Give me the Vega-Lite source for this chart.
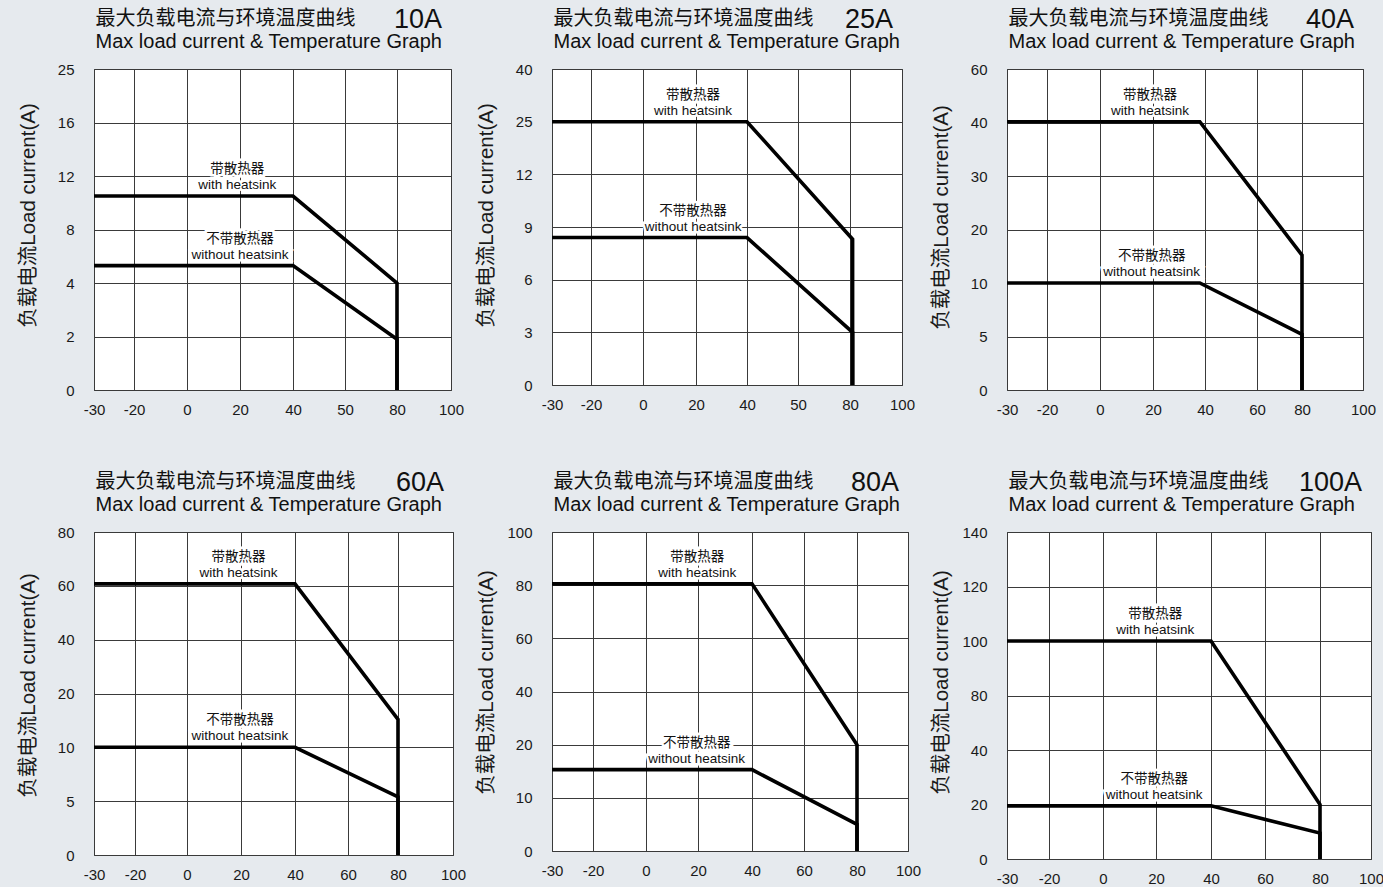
{
"$schema": "https://vega.github.io/schema/vega-lite/v6.json",
"background": "#e6eaee",
"padding": {"left": 17, "top": 5, "right": 0, "bottom": 0},
"bounds": "flush",
"columns": 3,
"spacing": {"row": 142, "column": 99},
"config": {
 "view": {"fill": "white", "stroke": "#333", "strokeWidth": 1},
 "font": "Liberation Sans, Noto Sans CJK SC",
 "axis": {"grid": true, "gridColor": "#3a3a3a", "gridWidth": 1, "gridOpacity": 1, "ticks": false, "tickSize": 0, "domain": false, "labelFont": "Liberation Sans", "labelFontSize": 15, "labelColor": "#1a1a1a", "labelFlush": false, "labelOverlap": false, "labelExpr": "replace(datum.label, '−', '-')", "titleFont": "Liberation Sans, Noto Sans CJK SC", "titleFontWeight": "normal", "titleFontSize": 19, "titleColor": "#1a1a1a"},
 "axisX": {"labelPadding": 12},
 "axisY": {"labelPadding": 20, "titleBaseline": "middle", "titleFontSize": 20.5},
 "title": {"font": "Liberation Sans", "fontWeight": "normal", "fontSize": 27, "color": "#111", "anchor": "end", "frame": "group"},
 "text": {"font": "Liberation Sans, Noto Sans CJK SC", "fontSize": 13.5, "color": "#111"},
 "line": {"color": "#000", "strokeWidth": 3.6, "strokeJoin": "miter", "strokeCap": "butt"}
},
"concat": [
{
 "width": 357, "height": 321,
 "title": {"text": "10A", "offset": -26, "dx": -9},
 "data": {"values": [
  {"s":"with","i":1,"t":-30,"a":10.5},{"s":"with","i":2,"t":40,"a":10.5},{"s":"with","i":3,"t":80,"a":4},{"s":"with","i":4,"t":80,"a":0},
  {"s":"without","i":1,"t":-30,"a":5.3},{"s":"without","i":2,"t":40,"a":5.3},{"s":"without","i":3,"t":80,"a":1.9},{"s":"without","i":4,"t":80,"a":0}
 ]},
 "layer": [
  {"mark": {"type":"line"},
   "encoding": {
    "x": {"field":"t","type":"quantitative","scale":{"domain":[-30,-20,0,20,40,50,80,100],"range":[0,40,93,146,199,251,303,357],"nice":false,"zero":false},"axis":{"values":[-30,-20,0,20,40,50,80,100],"title":null}},
    "y": {"field":"a","type":"quantitative","scale":{"domain":[0,2,4,8,12,16,25],"range":[321,267.5,214,160.5,107,53.5,0],"nice":false,"zero":false},"axis":{"values":[0,2,4,8,12,16,25],"title":"负载电流Load current(A)","titleX":-66,"titleY":146}},
    "detail":{"field":"s"},
    "order":{"field":"i"}
   }},
  {"data": {"values":[{"t":19,"a":10.5,"label":"带散热器\nwith heatsink"},{"t":20,"a":5.3,"label":"不带散热器\nwithout heatsink"}]},
   "mark": {"type":"text","baseline":"bottom","dy":-20,"lineBreak":"\n","lineHeight":16,"stroke":"white","strokeWidth":5,"color":"white"},
   "encoding": {
    "x": {"field":"t","type":"quantitative","scale":{"domain":[-30,-20,0,20,40,50,80,100],"range":[0,40,93,146,199,251,303,357],"nice":false,"zero":false},"axis":null},
    "y": {"field":"a","type":"quantitative","scale":{"domain":[0,2,4,8,12,16,25],"range":[321,267.5,214,160.5,107,53.5,0],"nice":false,"zero":false},"axis":{"values":[0,2,4,8,12,16,25],"title":"负载电流Load current(A)","titleX":-66,"titleY":146}},
    "text":{"field":"label"}
   }},
  {"data": {"values":[{"t":19,"a":10.5,"label":"带散热器\nwith heatsink"},{"t":20,"a":5.3,"label":"不带散热器\nwithout heatsink"}]},
   "mark": {"type":"text","baseline":"bottom","dy":-20,"lineBreak":"\n","lineHeight":16},
   "encoding": {
    "x": {"field":"t","type":"quantitative","scale":{"domain":[-30,-20,0,20,40,50,80,100],"range":[0,40,93,146,199,251,303,357],"nice":false,"zero":false},"axis":{"orient":"top","values":[],"grid":false,"labels":false,"title":["最大负载电流与环境温度曲线","Max load current & Temperature Graph"],"titleX":1,"titleY":-61,"titleAnchor":"start","titleAlign":"left","titleBaseline":"top","titleLineHeight":23,"titleFontSize":20,"titleColor":"#111"}},
    "y": {"field":"a","type":"quantitative","scale":{"domain":[0,2,4,8,12,16,25],"range":[321,267.5,214,160.5,107,53.5,0],"nice":false,"zero":false},"axis":{"values":[0,2,4,8,12,16,25],"title":"负载电流Load current(A)","titleX":-66,"titleY":146}},
    "text":{"field":"label"}
   }}
 ],
 "resolve":{"axis":{"x":"independent"}}
},
{
 "width": 350, "height": 316,
 "title": {"text": "25A", "offset": -26, "dx": -9},
 "data": {"values": [
  {"s":"with","i":1,"t":-30,"a":25},{"s":"with","i":2,"t":40,"a":25},{"s":"with","i":3,"t":81,"a":8.3},{"s":"with","i":4,"t":81,"a":0},
  {"s":"without","i":1,"t":-30,"a":8.4},{"s":"without","i":2,"t":40,"a":8.4},{"s":"without","i":3,"t":81,"a":3},{"s":"without","i":4,"t":81,"a":0}
 ]},
 "layer": [
  {"mark": {"type":"line"},
   "encoding": {
    "x": {"field":"t","type":"quantitative","scale":{"domain":[-30,-20,0,20,40,50,80,100],"range":[0,39,91,144,195,246,298,350],"nice":false,"zero":false},"axis":{"values":[-30,-20,0,20,40,50,80,100],"title":null}},
    "y": {"field":"a","type":"quantitative","scale":{"domain":[0,3,6,9,12,25,40],"range":[316,263.3,210.7,158,105.3,52.7,0],"nice":false,"zero":false},"axis":{"values":[0,3,6,9,12,25,40],"title":"负载电流Load current(A)","titleX":-66,"titleY":146}},
    "detail":{"field":"s"},
    "order":{"field":"i"}
   }},
  {"data": {"values":[{"t":18.9,"a":25,"label":"带散热器\nwith heatsink"},{"t":18.9,"a":8.4,"label":"不带散热器\nwithout heatsink"}]},
   "mark": {"type":"text","baseline":"bottom","dy":-20,"lineBreak":"\n","lineHeight":16,"stroke":"white","strokeWidth":5,"color":"white"},
   "encoding": {
    "x": {"field":"t","type":"quantitative","scale":{"domain":[-30,-20,0,20,40,50,80,100],"range":[0,39,91,144,195,246,298,350],"nice":false,"zero":false},"axis":null},
    "y": {"field":"a","type":"quantitative","scale":{"domain":[0,3,6,9,12,25,40],"range":[316,263.3,210.7,158,105.3,52.7,0],"nice":false,"zero":false},"axis":{"values":[0,3,6,9,12,25,40],"title":"负载电流Load current(A)","titleX":-66,"titleY":146}},
    "text":{"field":"label"}
   }},
  {"data": {"values":[{"t":18.9,"a":25,"label":"带散热器\nwith heatsink"},{"t":18.9,"a":8.4,"label":"不带散热器\nwithout heatsink"}]},
   "mark": {"type":"text","baseline":"bottom","dy":-20,"lineBreak":"\n","lineHeight":16},
   "encoding": {
    "x": {"field":"t","type":"quantitative","scale":{"domain":[-30,-20,0,20,40,50,80,100],"range":[0,39,91,144,195,246,298,350],"nice":false,"zero":false},"axis":{"orient":"top","values":[],"grid":false,"labels":false,"title":["最大负载电流与环境温度曲线","Max load current & Temperature Graph"],"titleX":1,"titleY":-61,"titleAnchor":"start","titleAlign":"left","titleBaseline":"top","titleLineHeight":23,"titleFontSize":20,"titleColor":"#111"}},
    "y": {"field":"a","type":"quantitative","scale":{"domain":[0,3,6,9,12,25,40],"range":[316,263.3,210.7,158,105.3,52.7,0],"nice":false,"zero":false},"axis":{"values":[0,3,6,9,12,25,40],"title":"负载电流Load current(A)","titleX":-66,"titleY":146}},
    "text":{"field":"label"}
   }}
 ],
 "resolve":{"axis":{"x":"independent"}}
},
{
 "width": 356, "height": 321,
 "title": {"text": "40A", "offset": -26, "dx": -9},
 "data": {"values": [
  {"s":"with","i":1,"t":-30,"a":40.3},{"s":"with","i":2,"t":38,"a":40.3},{"s":"with","i":3,"t":80,"a":15.2},{"s":"with","i":4,"t":80,"a":0},
  {"s":"without","i":1,"t":-30,"a":10},{"s":"without","i":2,"t":38,"a":10},{"s":"without","i":3,"t":80,"a":5.2},{"s":"without","i":4,"t":80,"a":0}
 ]},
 "layer": [
  {"mark": {"type":"line"},
   "encoding": {
    "x": {"field":"t","type":"quantitative","scale":{"domain":[-30,-20,0,20,40,60,80,100],"range":[0,40,93,146,198,250,295,356],"nice":false,"zero":false},"axis":{"values":[-30,-20,0,20,40,60,80,100],"title":null}},
    "y": {"field":"a","type":"quantitative","scale":{"domain":[0,5,10,20,30,40,60],"range":[321,267.5,214,160.5,107,53.5,0],"nice":false,"zero":false},"axis":{"values":[0,5,10,20,30,40,60],"title":"负载电流Load current(A)","titleX":-66,"titleY":148}},
    "detail":{"field":"s"},
    "order":{"field":"i"}
   }},
  {"data": {"values":[{"t":18.9,"a":40.3,"label":"带散热器\nwith heatsink"},{"t":19.5,"a":10,"label":"不带散热器\nwithout heatsink"}]},
   "mark": {"type":"text","baseline":"bottom","dy":-20,"lineBreak":"\n","lineHeight":16,"stroke":"white","strokeWidth":5,"color":"white"},
   "encoding": {
    "x": {"field":"t","type":"quantitative","scale":{"domain":[-30,-20,0,20,40,60,80,100],"range":[0,40,93,146,198,250,295,356],"nice":false,"zero":false},"axis":null},
    "y": {"field":"a","type":"quantitative","scale":{"domain":[0,5,10,20,30,40,60],"range":[321,267.5,214,160.5,107,53.5,0],"nice":false,"zero":false},"axis":{"values":[0,5,10,20,30,40,60],"title":"负载电流Load current(A)","titleX":-66,"titleY":148}},
    "text":{"field":"label"}
   }},
  {"data": {"values":[{"t":18.9,"a":40.3,"label":"带散热器\nwith heatsink"},{"t":19.5,"a":10,"label":"不带散热器\nwithout heatsink"}]},
   "mark": {"type":"text","baseline":"bottom","dy":-20,"lineBreak":"\n","lineHeight":16},
   "encoding": {
    "x": {"field":"t","type":"quantitative","scale":{"domain":[-30,-20,0,20,40,60,80,100],"range":[0,40,93,146,198,250,295,356],"nice":false,"zero":false},"axis":{"orient":"top","values":[],"grid":false,"labels":false,"title":["最大负载电流与环境温度曲线","Max load current & Temperature Graph"],"titleX":1,"titleY":-61,"titleAnchor":"start","titleAlign":"left","titleBaseline":"top","titleLineHeight":23,"titleFontSize":20,"titleColor":"#111"}},
    "y": {"field":"a","type":"quantitative","scale":{"domain":[0,5,10,20,30,40,60],"range":[321,267.5,214,160.5,107,53.5,0],"nice":false,"zero":false},"axis":{"values":[0,5,10,20,30,40,60],"title":"负载电流Load current(A)","titleX":-66,"titleY":148}},
    "text":{"field":"label"}
   }}
 ],
 "resolve":{"axis":{"x":"independent"}}
},
{
 "width": 359, "height": 323,
 "title": {"text": "60A", "offset": -26, "dx": -9},
 "data": {"values": [
  {"s":"with","i":1,"t":-30,"a":60.7},{"s":"with","i":2,"t":40,"a":60.7},{"s":"with","i":3,"t":80,"a":15.2},{"s":"with","i":4,"t":80,"a":0},
  {"s":"without","i":1,"t":-30,"a":10},{"s":"without","i":2,"t":40,"a":10},{"s":"without","i":3,"t":80,"a":5.4},{"s":"without","i":4,"t":80,"a":0}
 ]},
 "layer": [
  {"mark": {"type":"line"},
   "encoding": {
    "x": {"field":"t","type":"quantitative","scale":{"domain":[-30,-20,0,20,40,60,80,100],"range":[0,41,93,147,201,254,304,359],"nice":false,"zero":false},"axis":{"values":[-30,-20,0,20,40,60,80,100],"title":null}},
    "y": {"field":"a","type":"quantitative","scale":{"domain":[0,5,10,20,40,60,80],"range":[323,269.2,215.3,161.5,107.7,53.8,0],"nice":false,"zero":false},"axis":{"values":[0,5,10,20,40,60,80],"title":"负载电流Load current(A)","titleX":-66,"titleY":153}},
    "detail":{"field":"s"},
    "order":{"field":"i"}
   }},
  {"data": {"values":[{"t":19.1,"a":60.7,"label":"带散热器\nwith heatsink"},{"t":19.6,"a":10,"label":"不带散热器\nwithout heatsink"}]},
   "mark": {"type":"text","baseline":"bottom","dy":-20,"lineBreak":"\n","lineHeight":16,"stroke":"white","strokeWidth":5,"color":"white"},
   "encoding": {
    "x": {"field":"t","type":"quantitative","scale":{"domain":[-30,-20,0,20,40,60,80,100],"range":[0,41,93,147,201,254,304,359],"nice":false,"zero":false},"axis":null},
    "y": {"field":"a","type":"quantitative","scale":{"domain":[0,5,10,20,40,60,80],"range":[323,269.2,215.3,161.5,107.7,53.8,0],"nice":false,"zero":false},"axis":{"values":[0,5,10,20,40,60,80],"title":"负载电流Load current(A)","titleX":-66,"titleY":153}},
    "text":{"field":"label"}
   }},
  {"data": {"values":[{"t":19.1,"a":60.7,"label":"带散热器\nwith heatsink"},{"t":19.6,"a":10,"label":"不带散热器\nwithout heatsink"}]},
   "mark": {"type":"text","baseline":"bottom","dy":-20,"lineBreak":"\n","lineHeight":16},
   "encoding": {
    "x": {"field":"t","type":"quantitative","scale":{"domain":[-30,-20,0,20,40,60,80,100],"range":[0,41,93,147,201,254,304,359],"nice":false,"zero":false},"axis":{"orient":"top","values":[],"grid":false,"labels":false,"title":["最大负载电流与环境温度曲线","Max load current & Temperature Graph"],"titleX":1,"titleY":-61,"titleAnchor":"start","titleAlign":"left","titleBaseline":"top","titleLineHeight":23,"titleFontSize":20,"titleColor":"#111"}},
    "y": {"field":"a","type":"quantitative","scale":{"domain":[0,5,10,20,40,60,80],"range":[323,269.2,215.3,161.5,107.7,53.8,0],"nice":false,"zero":false},"axis":{"values":[0,5,10,20,40,60,80],"title":"负载电流Load current(A)","titleX":-66,"titleY":153}},
    "text":{"field":"label"}
   }}
 ],
 "resolve":{"axis":{"x":"independent"}}
},
{
 "width": 356, "height": 319,
 "title": {"text": "80A", "offset": -26, "dx": -9},
 "data": {"values": [
  {"s":"with","i":1,"t":-30,"a":80.5},{"s":"with","i":2,"t":40,"a":80.5},{"s":"with","i":3,"t":80,"a":20},{"s":"with","i":4,"t":80,"a":0},
  {"s":"without","i":1,"t":-30,"a":15.3},{"s":"without","i":2,"t":40,"a":15.3},{"s":"without","i":3,"t":80,"a":5},{"s":"without","i":4,"t":80,"a":0}
 ]},
 "layer": [
  {"mark": {"type":"line"},
   "encoding": {
    "x": {"field":"t","type":"quantitative","scale":{"domain":[-30,-20,0,20,40,60,80,100],"range":[0,41,94,146,200,252,305,356],"nice":false,"zero":false},"axis":{"values":[-30,-20,0,20,40,60,80,100],"title":null}},
    "y": {"field":"a","type":"quantitative","scale":{"domain":[0,10,20,40,60,80,100],"range":[319,265.8,212.7,159.5,106.3,53.2,0],"nice":false,"zero":false},"axis":{"values":[0,10,20,40,60,80,100],"title":"负载电流Load current(A)","titleX":-66,"titleY":150}},
    "detail":{"field":"s"},
    "order":{"field":"i"}
   }},
  {"data": {"values":[{"t":19.7,"a":80.5,"label":"带散热器\nwith heatsink"},{"t":19.5,"a":15.3,"label":"不带散热器\nwithout heatsink"}]},
   "mark": {"type":"text","baseline":"bottom","dy":-20,"lineBreak":"\n","lineHeight":16,"stroke":"white","strokeWidth":5,"color":"white"},
   "encoding": {
    "x": {"field":"t","type":"quantitative","scale":{"domain":[-30,-20,0,20,40,60,80,100],"range":[0,41,94,146,200,252,305,356],"nice":false,"zero":false},"axis":null},
    "y": {"field":"a","type":"quantitative","scale":{"domain":[0,10,20,40,60,80,100],"range":[319,265.8,212.7,159.5,106.3,53.2,0],"nice":false,"zero":false},"axis":{"values":[0,10,20,40,60,80,100],"title":"负载电流Load current(A)","titleX":-66,"titleY":150}},
    "text":{"field":"label"}
   }},
  {"data": {"values":[{"t":19.7,"a":80.5,"label":"带散热器\nwith heatsink"},{"t":19.5,"a":15.3,"label":"不带散热器\nwithout heatsink"}]},
   "mark": {"type":"text","baseline":"bottom","dy":-20,"lineBreak":"\n","lineHeight":16},
   "encoding": {
    "x": {"field":"t","type":"quantitative","scale":{"domain":[-30,-20,0,20,40,60,80,100],"range":[0,41,94,146,200,252,305,356],"nice":false,"zero":false},"axis":{"orient":"top","values":[],"grid":false,"labels":false,"title":["最大负载电流与环境温度曲线","Max load current & Temperature Graph"],"titleX":1,"titleY":-61,"titleAnchor":"start","titleAlign":"left","titleBaseline":"top","titleLineHeight":23,"titleFontSize":20,"titleColor":"#111"}},
    "y": {"field":"a","type":"quantitative","scale":{"domain":[0,10,20,40,60,80,100],"range":[319,265.8,212.7,159.5,106.3,53.2,0],"nice":false,"zero":false},"axis":{"values":[0,10,20,40,60,80,100],"title":"负载电流Load current(A)","titleX":-66,"titleY":150}},
    "text":{"field":"label"}
   }}
 ],
 "resolve":{"axis":{"x":"independent"}}
},
{
 "width": 364, "height": 327,
 "title": {"text": "100A", "offset": -26, "dx": -9},
 "data": {"values": [
  {"s":"with","i":1,"t":-30,"a":100},{"s":"with","i":2,"t":40,"a":100},{"s":"with","i":3,"t":80,"a":20},{"s":"with","i":4,"t":80,"a":0},
  {"s":"without","i":1,"t":-30,"a":19.5},{"s":"without","i":2,"t":40,"a":19.5},{"s":"without","i":3,"t":80,"a":9.5},{"s":"without","i":4,"t":80,"a":0}
 ]},
 "layer": [
  {"mark": {"type":"line"},
   "encoding": {
    "x": {"field":"t","type":"quantitative","scale":{"domain":[-30,-20,0,20,40,60,80,100],"range":[0,42,96,149,204,258,313,364],"nice":false,"zero":false},"axis":{"values":[-30,-20,0,20,40,60,80,100],"title":null}},
    "y": {"field":"a","type":"quantitative","scale":{"domain":[0,20,40,80,100,120,140],"range":[327,272.5,218,163.5,109,54.5,0],"nice":false,"zero":false},"axis":{"values":[0,20,40,80,100,120,140],"title":"负载电流Load current(A)","titleX":-66,"titleY":150}},
    "detail":{"field":"s"},
    "order":{"field":"i"}
   }},
  {"data": {"values":[{"t":19.7,"a":100,"label":"带散热器\nwith heatsink"},{"t":19.3,"a":19.5,"label":"不带散热器\nwithout heatsink"}]},
   "mark": {"type":"text","baseline":"bottom","dy":-20,"lineBreak":"\n","lineHeight":16,"stroke":"white","strokeWidth":5,"color":"white"},
   "encoding": {
    "x": {"field":"t","type":"quantitative","scale":{"domain":[-30,-20,0,20,40,60,80,100],"range":[0,42,96,149,204,258,313,364],"nice":false,"zero":false},"axis":null},
    "y": {"field":"a","type":"quantitative","scale":{"domain":[0,20,40,80,100,120,140],"range":[327,272.5,218,163.5,109,54.5,0],"nice":false,"zero":false},"axis":{"values":[0,20,40,80,100,120,140],"title":"负载电流Load current(A)","titleX":-66,"titleY":150}},
    "text":{"field":"label"}
   }},
  {"data": {"values":[{"t":19.7,"a":100,"label":"带散热器\nwith heatsink"},{"t":19.3,"a":19.5,"label":"不带散热器\nwithout heatsink"}]},
   "mark": {"type":"text","baseline":"bottom","dy":-20,"lineBreak":"\n","lineHeight":16},
   "encoding": {
    "x": {"field":"t","type":"quantitative","scale":{"domain":[-30,-20,0,20,40,60,80,100],"range":[0,42,96,149,204,258,313,364],"nice":false,"zero":false},"axis":{"orient":"top","values":[],"grid":false,"labels":false,"title":["最大负载电流与环境温度曲线","Max load current & Temperature Graph"],"titleX":1,"titleY":-61,"titleAnchor":"start","titleAlign":"left","titleBaseline":"top","titleLineHeight":23,"titleFontSize":20,"titleColor":"#111"}},
    "y": {"field":"a","type":"quantitative","scale":{"domain":[0,20,40,80,100,120,140],"range":[327,272.5,218,163.5,109,54.5,0],"nice":false,"zero":false},"axis":{"values":[0,20,40,80,100,120,140],"title":"负载电流Load current(A)","titleX":-66,"titleY":150}},
    "text":{"field":"label"}
   }}
 ],
 "resolve":{"axis":{"x":"independent"}}
}
]
}
